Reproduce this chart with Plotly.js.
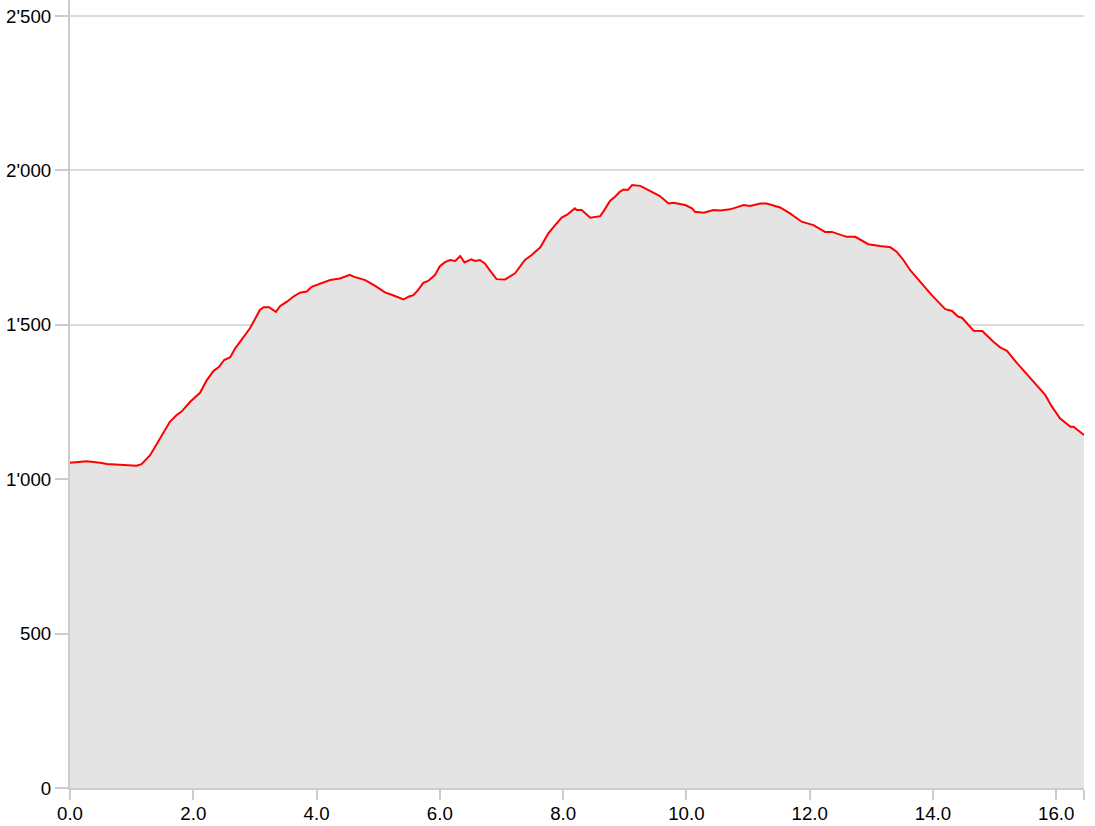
<!DOCTYPE html>
<html>
<head>
<meta charset="utf-8">
<script src="https://cdn.plot.ly/plotly-3.0.1.min.js"></script>
<style>html,body{margin:0;padding:0;background:#fff}#chart{width:1095px;height:826px}</style>
</head>
<body>
<div id="chart"></div>
<script>
const distanceKm = [0,0.27,0.49,0.6,1.08,1.16,1.30,1.46,1.62,1.73,
1.81,1.95,2.11,2.22,2.33,2.42,2.50,2.60,2.68,2.92,
3.08,3.14,3.23,3.34,3.41,3.52,3.62,3.73,3.84,3.92,
4.11,4.22,4.38,4.54,4.60,4.79,4.95,5.11,5.25,5.41,
5.49,5.57,5.65,5.73,5.81,5.92,6.00,6.09,6.17,6.25,
6.33,6.40,6.51,6.57,6.65,6.73,6.82,6.92,7.06,7.14,
7.22,7.38,7.49,7.63,7.76,7.87,7.98,8.06,8.19,8.22,
8.30,8.44,8.52,8.60,8.65,8.76,8.84,8.92,8.98,9.05,
9.12,9.25,9.33,9.47,9.57,9.71,9.79,9.98,10.09,10.14,
10.28,10.44,10.55,10.71,10.82,10.93,11.03,11.20,11.30,11.52,
11.68,11.87,12.06,12.25,12.36,12.49,12.60,12.74,12.95,13.14,
13.31,13.41,13.52,13.63,13.79,13.87,13.98,14.12,14.20,14.31,
14.41,14.47,14.58,14.66,14.80,14.98,15.09,15.20,15.36,15.52,
15.69,15.82,15.93,16.06,16.23,16.28,16.45];
const elevationM = [1053,1058,1053,1049,1044,1049,1078,1132,1186,1208,
1219,1251,1280,1321,1351,1364,1386,1395,1424,1489,
1548,1557,1557,1542,1561,1575,1591,1604,1608,1623,
1636,1645,1650,1662,1656,1645,1626,1605,1595,1582,
1591,1596,1613,1636,1642,1661,1690,1704,1710,1707,
1723,1702,1712,1707,1710,1699,1674,1648,1647,1656,
1667,1710,1726,1751,1796,1823,1848,1856,1877,1872,
1872,1847,1850,1852,1866,1901,1915,1931,1938,1937,
1953,1950,1942,1926,1917,1893,1895,1888,1877,1866,
1863,1872,1870,1874,1882,1888,1885,1893,1893,1880,
1861,1834,1823,1801,1801,1791,1785,1785,1761,1755,
1751,1737,1710,1677,1640,1618,1596,1567,1551,1545,
1526,1523,1497,1481,1480,1445,1427,1416,1377,1340,
1302,1273,1235,1197,1170,1170,1143];
const xTickVals = [0,2,4,6,8,10,12,14,16];
const yTickVals = [0,500,1000,1500,2000,2500];

const xMax = distanceKm[distanceKm.length-1];
const xTicks = xTickVals.concat([xMax]);
const xTickText = xTickVals.map(v => v.toFixed(1)).concat(['']);

const trace = {
  x: distanceKm, y: elevationM, type: 'scatter', mode: 'lines',
  line: {color: '#ff0000', width: 2, shape: 'linear'},
  fill: 'tozeroy', fillcolor: '#e4e4e4', hoverinfo: 'x+y'
};
const font = {family: 'Arial, "Liberation Sans", sans-serif', size: 18.7, color: '#000'};
const layout = {
  width: 1095, height: 826,
  margin: {l: 70, r: 11, t: 0, b: 38},
  paper_bgcolor: '#fff', plot_bgcolor: '#fff',
  separators: ".'",
  showlegend: false,
  font: font,
  xaxis: {
    range: [0, xMax], tickmode: 'array', tickvals: xTicks, ticktext: xTickText,
    showgrid: false, zeroline: false, showline: true, linecolor: '#cccccc', linewidth: 2,
    ticks: 'outside', ticklen: 10, tickwidth: 2, tickcolor: '#cccccc', tickfont: font,
    ticklabelstandoff: -2
  },
  yaxis: {
    range: [0, 2552], tickmode: 'array', tickvals: yTickVals, separatethousands: true, tickformat: ',d',
    showgrid: true, gridcolor: '#dcdcdc', gridwidth: 2, zeroline: false,
    showline: true, linecolor: '#cccccc', linewidth: 2,
    ticks: 'outside', ticklen: 13, tickwidth: 2, tickcolor: '#cccccc', tickfont: font
  }
};
Plotly.newPlot('chart', [trace], layout, {displayModeBar: false, staticPlot: true});
</script>
</body>
</html>
